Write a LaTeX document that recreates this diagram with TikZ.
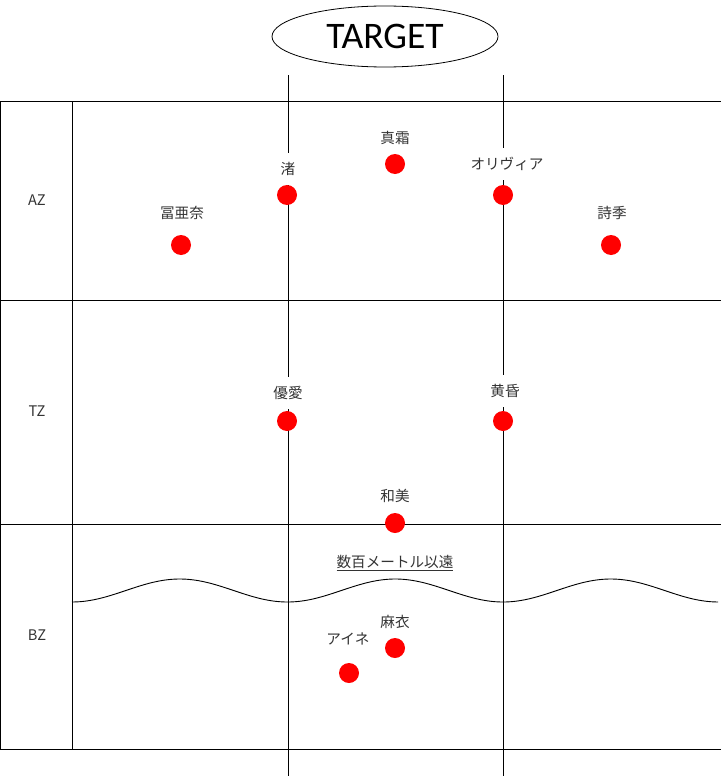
\documentclass[tikz,border=0pt]{standalone}
\usepackage{fontspec}
\setmainfont{Noto Sans CJK JP}
\newfontfamily\targetfont{Carlito}
\usetikzlibrary{shapes.geometric}
\tikzset{
  pin/.style={circle, fill=red, minimum size=20pt, inner sep=0pt},
  who/.style={fill=white, inner xsep=6pt, inner ysep=0pt, minimum height=32pt,
    font=\fontsize{14.6}{17}\selectfont, text=black!80},
  zone/.style={font=\fontsize{14.6}{17}\selectfont, text=black!80}
}
\begin{document}
\begin{tikzpicture}[x=1pt, y=-1pt, line width=1pt]
        \useasboundingbox (0,0) rectangle (721,776);
        % target
        \node[draw, ellipse, line width=0.8pt, inner sep=0pt, minimum width=226pt, minimum height=61pt,
          font=\targetfont\fontsize{37.5}{40}\selectfont] (target) at (385,36.5) {TARGET};
        % grid
        \draw (288,75) -- (288,776);
        \draw (503,75) -- (503,776);
        \draw (0,101) -- (721,101);
        \draw (0,300) -- (721,300);
        \draw (0,524) -- (721,524);
        \draw (0,749) -- (721,749);
        \draw (0.5,101) -- (0.5,749);
        \draw (72,101) -- (72,749);
        % zones
        \node[zone] (az) at (37,200) {AZ};
        \node[zone] (tz) at (37,411) {TZ};
        \node[zone] (bz) at (37,635) {BZ};
        % wave
        \draw[line width=0.9pt] plot[domain=72:718, samples=120, smooth] (\x,{590.5+11.5*cos(1.67053*(\x-72))});
        \node[zone] (far) at (395,563) {\underline{数百メートル以遠}};
        % names
        \node[who] (funa-l)   at (182,213) {冨亜奈};
        \node[who] (nagisa-l) at (288,169) {渚};
        \node[who] (mashimo-l) at (395,138) {真霜};
        \node[who] (olivia-l) at (507,164) {オリヴィア};
        \node[who] (shiki-l)  at (612,213) {詩季};
        \node[who] (yua-l)    at (288,393) {優愛};
        \node[who] (tasogare-l) at (505,391) {黄昏};
        \node[who] (kazumi-l) at (395,496) {和美};
        \node[who] (mai-l)    at (395,622) {麻衣};
        \node[who] (aine-l)   at (348,639) {アイネ};
        % pins
        \node[pin] (funa)     at (181,245) {};
        \node[pin] (nagisa)   at (287,195) {};
        \node[pin] (mashimo)  at (395,164) {};
        \node[pin] (olivia)   at (503,195) {};
        \node[pin] (shiki)    at (611,245) {};
        \node[pin] (yua)      at (287,421) {};
        \node[pin] (tasogare) at (503,421) {};
        \node[pin] (kazumi)   at (395,523) {};
        \node[pin] (mai)      at (395,648) {};
        \node[pin] (aine)     at (349,673) {};
\end{tikzpicture}
\end{document}
